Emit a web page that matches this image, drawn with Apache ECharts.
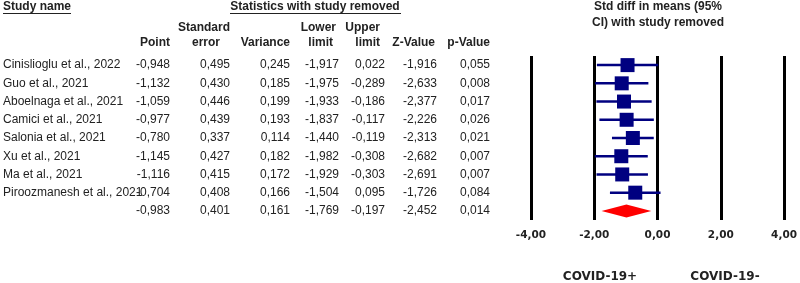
<!DOCTYPE html>
<html>
<head>
<meta charset="utf-8">
<script src="https://cdn.jsdelivr.net/npm/echarts@6/dist/echarts.min.js"></script>
<style>
  html, body { margin: 0; padding: 0; background: #fff; }
  #chart { width: 800px; height: 283px; }
</style>
</head>
<body>
<div id="chart"></div>
<script>
// leave-one-out forest plot
const studies = [
  'Cinislioglu et al., 2022', 'Guo et al., 2021', 'Aboelnaga et al., 2021',
  'Camici et al., 2021', 'Salonia et al., 2021', 'Xu et al., 2021',
  'Ma et al., 2021', 'Piroozmanesh et al., 2021', ''
];
const pointEst = [-0.948, -1.132, -1.059, -0.977, -0.780, -1.145, -1.116, -0.704, -0.983];
const stdErr = [0.495, 0.430, 0.446, 0.439, 0.337, 0.427, 0.415, 0.408, 0.401];
const variance = [0.245, 0.185, 0.199, 0.193, 0.114, 0.182, 0.172, 0.166, 0.161];
const lowerLim = [-1.917, -1.975, -1.933, -1.837, -1.440, -1.982, -1.929, -1.504, -1.769];
const upperLim = [0.022, -0.289, -0.186, -0.117, -0.119, -0.308, -0.303, 0.095, -0.197];
const zValue = [-1.916, -2.633, -2.377, -2.226, -2.313, -2.682, -2.691, -1.726, -2.452];
const pValue = [0.055, 0.008, 0.017, 0.026, 0.021, 0.007, 0.007, 0.084, 0.014];
const xTicks = [-4, -2, 0, 2, 4];

const rowIdx = studies.map((_, i) => i);
const fmt3 = v => v.toFixed(3).replace('.', ',');
const fmt2 = v => v.toFixed(2).replace('.', ',');

const txtFont = '12px "Liberation Sans", Arial, sans-serif';
const boldFont = 'bold 12px "Liberation Sans", Arial, sans-serif';
const ink = '#222';
const navy = '#000080';

// right edges of the numeric columns (pixels in the table grid)
const colRight = [170, 230, 290, 339, 385, 437, 490];
const colData = [pointEst, stdErr, variance, lowerLim, upperLim, zValue, pValue];

const chart = echarts.init(document.getElementById('chart'), null, { renderer: 'canvas' });

const headerText = (text, x, y, align, font) => ({
  type: 'text', x, y, silent: true,
  style: { text, align: align || 'right', verticalAlign: 'middle', font: font || boldFont, fill: ink }
});

chart.setOption({
  animation: false,
  backgroundColor: '#fff',
  grid: [
    { left: 0, top: 56, width: 500, height: 164 },
    { left: 531, right: 12, top: 56, height: 164 }
  ],
  xAxis: [
    { gridIndex: 0, type: 'value', min: 0, max: 500, show: false },
    {
      gridIndex: 1, type: 'value', min: -4, max: 4, interval: 2,
      axisLine: { show: false }, axisTick: { show: false },
      splitLine: { show: true, lineStyle: { color: '#000', width: 3 } },
      axisLabel: {
        margin: 10, color: '#222', fontWeight: 'bold', fontSize: 10.5,
        fontFamily: '"DejaVu Sans", Verdana, sans-serif', formatter: v => fmt2(v)
      }
    }
  ],
  yAxis: [
    { gridIndex: 0, type: 'category', data: rowIdx, inverse: true, show: false },
    { gridIndex: 1, type: 'category', data: rowIdx, inverse: true, show: false }
  ],
  graphic: [
    headerText('Study name', 3, 7, 'left'),
    { type: 'rect', silent: true, shape: { x: 3, y: 13, width: 68, height: 1 }, style: { fill: ink } },
    headerText('Statistics with study removed', 315, 7, 'center'),
    { type: 'rect', silent: true, shape: { x: 230, y: 13, width: 171, height: 1 }, style: { fill: ink } },
    headerText('Point', 170, 43),
    headerText('Standard', 204, 28, 'center'),
    headerText('error', 206, 43, 'center'),
    headerText('Variance', 290, 43),
    headerText('Lower', 336, 28),
    headerText('limit', 333, 43),
    headerText('Upper', 380, 28),
    headerText('limit', 380, 43),
    headerText('Z-Value', 435, 43),
    headerText('p-Value', 490, 43),
    headerText('Std diff in means (95%', 658, 7, 'center'),
    headerText('CI) with study removed', 658, 23, 'center'),
    headerText('COVID-19+', 600, 277, 'center', 'bold 12px "DejaVu Sans", Verdana, sans-serif'),
    headerText('COVID-19-', 725, 277, 'center', 'bold 12px "DejaVu Sans", Verdana, sans-serif')
  ],
  series: [
    {
      // table cells
      type: 'custom',
      xAxisIndex: 0, yAxisIndex: 0,
      data: rowIdx.map(i => [0, i]),
      renderItem: (params, api) => {
        const i = api.value(1);
        const y = api.coord([0, i])[1];
        const children = [{
          type: 'text',
          style: { text: studies[i], x: api.coord([3, i])[0], y, align: 'left', verticalAlign: 'middle', font: txtFont, fill: ink }
        }];
        colData.forEach((arr, c) => {
          children.push({
            type: 'text',
            style: { text: fmt3(arr[i]), x: api.coord([colRight[c], i])[0], y, align: 'right', verticalAlign: 'middle', font: txtFont, fill: ink }
          });
        });
        return { type: 'group', children };
      }
    },
    {
      // confidence intervals, squares and summary diamond
      type: 'custom',
      xAxisIndex: 1, yAxisIndex: 1,
      data: rowIdx.map(i => [pointEst[i], i, lowerLim[i], upperLim[i]]),
      renderItem: (params, api) => {
        const i = api.value(1);
        const p = api.coord([api.value(0), i]);
        const lo = api.coord([api.value(2), i]);
        const hi = api.coord([api.value(3), i]);
        if (i === studies.length - 1) {
          const h = 6.5;
          return {
            type: 'polygon',
            shape: { points: [[lo[0], p[1]], [p[0], p[1] - h], [hi[0], p[1]], [p[0], p[1] + h]] },
            style: { fill: '#ff0000' }
          };
        }
        const s = 14;
        return {
          type: 'group',
          children: [
            { type: 'line', shape: { x1: lo[0], y1: lo[1], x2: hi[0], y2: hi[1] }, style: { stroke: navy, lineWidth: 2.5 } },
            { type: 'rect', shape: { x: p[0] - s / 2, y: p[1] - s / 2, width: s, height: s }, style: { fill: navy } }
          ]
        };
      }
    }
  ]
});
</script>
</body>
</html>
